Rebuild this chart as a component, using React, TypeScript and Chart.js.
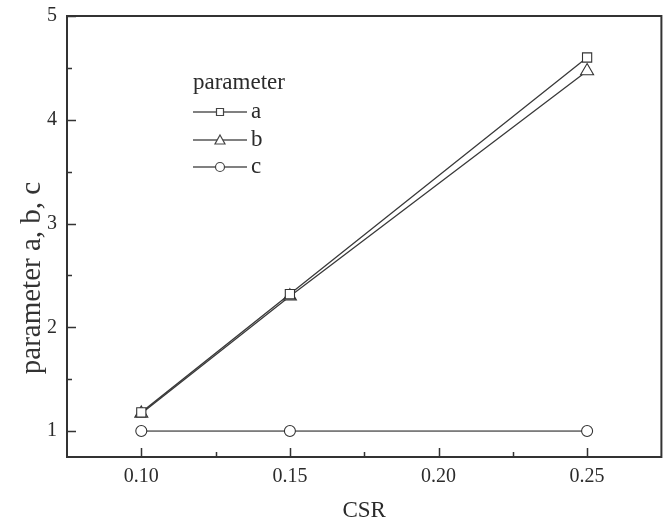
import React, { useEffect, useRef } from "react";
import { Chart, registerables } from "chart.js";

Chart.register(...registerables);

const csr = [0.1, 0.15, 0.25];
const paramA = [1.18, 2.32, 4.6];
const paramB = [1.17, 2.3, 4.47];
const paramC = [1.0, 1.0, 1.0];
const xTicks = [0.1, 0.15, 0.2, 0.25];
const xMinorTicks = [0.125, 0.175, 0.225];
const yTicks = [1, 2, 3, 4, 5];
const yMinorTicks = [1.5, 2.5, 3.5, 4.5];
const seriesNames = ["a", "b", "c"];
const legendTitle = "parameter";
const xTitle = "CSR";
const yTitle = "parameter a, b, c";

const FONT = "'Liberation Serif', 'Times New Roman', serif";
const INK = "#2b2b2b";

const framePlugin = {
  id: "framePlugin",
  afterDraw(chart: any) {
    const { ctx, chartArea } = chart;
    const { left, right, top, bottom } = chartArea;
    const xs = chart.scales.x;
    const ys = chart.scales.y;
    ctx.save();
    ctx.strokeStyle = "#333";
    ctx.lineWidth = 2;
    ctx.strokeRect(left, top, right - left, bottom - top);
    ctx.lineWidth = 1.5;
    ctx.beginPath();
    xTicks.forEach((v) => {
      const px = Math.round(xs.getPixelForValue(v)) + 0.5;
      ctx.moveTo(px, bottom);
      ctx.lineTo(px, bottom - 9);
    });
    xMinorTicks.forEach((v) => {
      const px = Math.round(xs.getPixelForValue(v)) + 0.5;
      ctx.moveTo(px, bottom);
      ctx.lineTo(px, bottom - 5);
    });
    yTicks.forEach((v) => {
      const py = Math.round(ys.getPixelForValue(v)) + 0.5;
      ctx.moveTo(left, py);
      ctx.lineTo(left + 9, py);
    });
    yMinorTicks.forEach((v) => {
      const py = Math.round(ys.getPixelForValue(v)) + 0.5;
      ctx.moveTo(left, py);
      ctx.lineTo(left + 5, py);
    });
    ctx.stroke();

    ctx.fillStyle = INK;
    ctx.textAlign = "center";
    ctx.textBaseline = "middle";
    ctx.font = `23px ${FONT}`;
    ctx.fillText(xTitle, (left + right) / 2, 511);
    ctx.save();
    ctx.translate(32, 278);
    ctx.rotate(-Math.PI / 2);
    ctx.fillStyle = "#333";
    ctx.font = `29px ${FONT}`;
    ctx.fillText(yTitle, 0, 0);
    ctx.restore();

    ctx.textAlign = "left";
    ctx.font = `23px ${FONT}`;
    ctx.fillText(legendTitle, 193, 83);
    const ys2 = [112, 140, 167];
    seriesNames.forEach((name, i) => {
      const y = ys2[i];
      ctx.strokeStyle = "#808080";
      ctx.lineWidth = 2;
      ctx.beginPath();
      ctx.moveTo(193, y);
      ctx.lineTo(247, y);
      ctx.stroke();
      ctx.fillStyle = "#fff";
      ctx.strokeStyle = "#444";
      ctx.lineWidth = 1.2;
      ctx.beginPath();
      if (i === 0) {
        ctx.rect(216.5, y - 3.5, 7, 7);
      } else if (i === 1) {
        ctx.moveTo(220, y - 5);
        ctx.lineTo(225, y + 4);
        ctx.lineTo(215, y + 4);
        ctx.closePath();
      } else {
        ctx.arc(220, y, 4.5, 0, Math.PI * 2);
      }
      ctx.fill();
      ctx.stroke();
      ctx.fillStyle = INK;
      ctx.fillText(name, 251, y);
    });
    ctx.restore();
  },
};

export default function App() {
  const ref = useRef<HTMLCanvasElement | null>(null);
  useEffect(() => {
    document.body.style.margin = "0";
    const canvas = ref.current;
    if (!canvas) return;
    const mk = (label: string, data: number[], style: string, radius: number, color: string, width: number) => ({
      label,
      data: csr.map((x, i) => ({ x, y: data[i] })),
      borderColor: color,
      borderWidth: width,
      pointStyle: style,
      pointRadius: radius,
      pointBorderColor: "#333",
      pointBorderWidth: 1.1,
      pointBackgroundColor: "#fff",
      showLine: true,
      tension: 0,
    });
    const chart = new Chart(canvas, {
      type: "scatter",
      data: {
        datasets: [
          mk(seriesNames[0], paramA, "rect", 6.5, "#3a3a3a", 1.3),
          mk(seriesNames[1], paramB, "triangle", 7.5, "#3a3a3a", 1.3),
          mk(seriesNames[2], paramC, "circle", 5.5, "#111", 1),
        ],
      },
      options: {
        animation: false,
        responsive: false,
        maintainAspectRatio: false,
        layout: { padding: { top: 16, right: 3, left: 0, bottom: 0 } },
        plugins: { legend: { display: false }, tooltip: { enabled: false } },
        scales: {
          x: {
            type: "linear",
            min: 0.075,
            max: 0.275,
            grid: { display: false, drawTicks: false },
            border: { display: false },
            afterBuildTicks: (s: any) => {
              s.ticks = xTicks.map((v) => ({ value: v }));
            },
            afterFit: (s: any) => {
              s.height = 69;
              s.paddingLeft = 0;
              s.paddingRight = 0;
            },
            ticks: {
              padding: 8,
              color: INK,
              font: { family: FONT, size: 20 },
              callback: (v: any) => Number(v).toFixed(2),
              maxRotation: 0,
            },
          },
          y: {
            type: "linear",
            min: 0.75,
            max: 5,
            grid: { display: false, drawTicks: false },
            border: { display: false },
            afterBuildTicks: (s: any) => {
              s.ticks = yTicks.map((v) => ({ value: v }));
            },
            afterFit: (s: any) => {
              s.width = 67;
              s.paddingTop = 0;
              s.paddingBottom = 0;
            },
            ticks: {
              padding: 10,
              color: INK,
              font: { family: FONT, size: 20 },
              callback: (v: any) => String(v),
            },
          },
        },
      },
      plugins: [framePlugin],
    } as any);
    return () => chart.destroy();
  }, []);
  return <canvas ref={ref} width={670} height={526} style={{ display: "block", width: 670, height: 526 }} />;
}
